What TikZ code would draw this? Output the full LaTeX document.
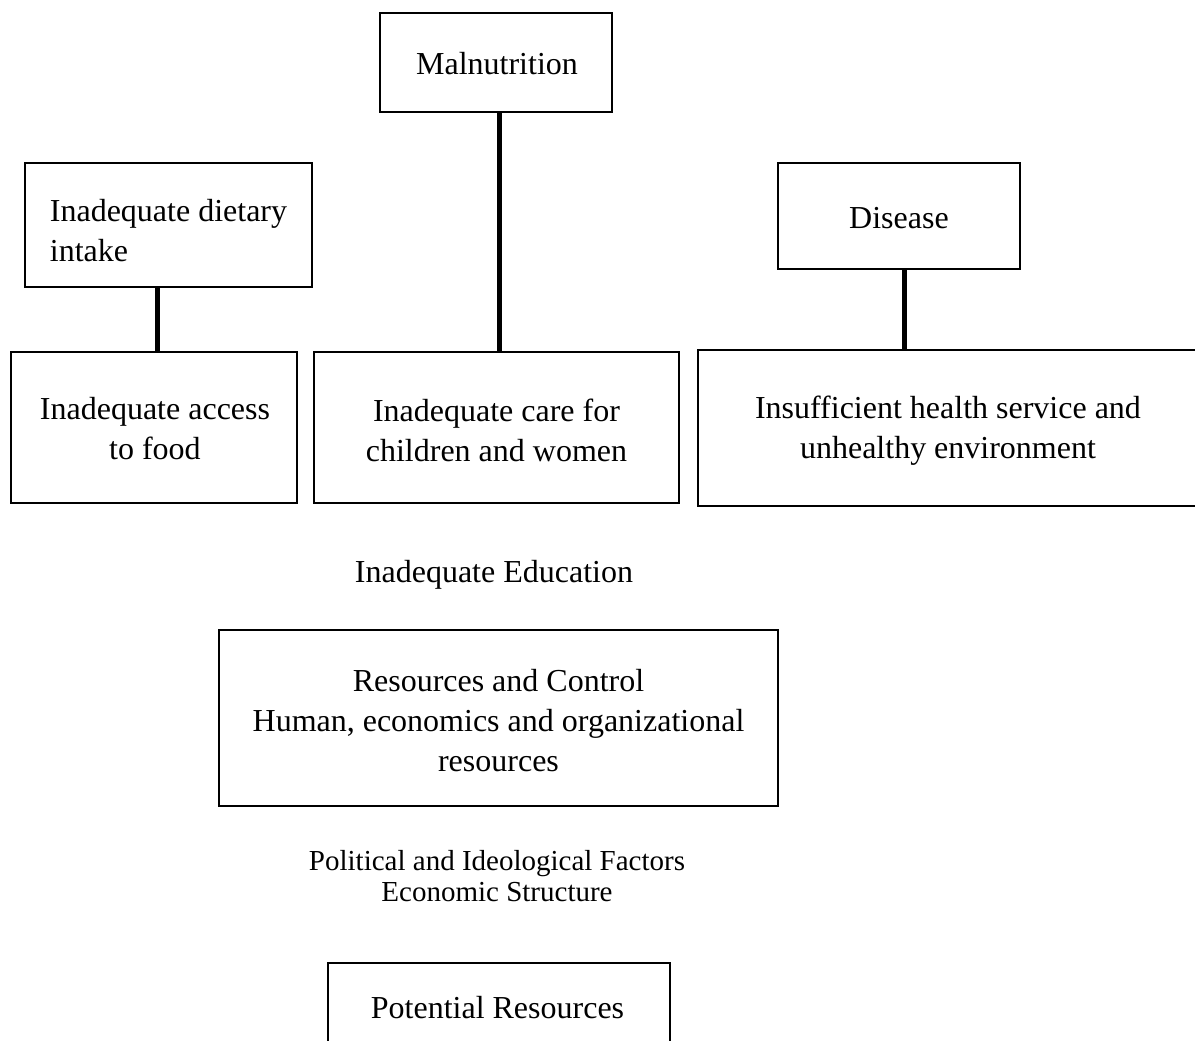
\documentclass[tikz,border=0pt]{standalone}
\usepackage{fontspec}
\setmainfont{Liberation Serif}
\begin{document}
\begin{tikzpicture}[x=1pt,y=-1pt,
  box/.style={draw, line width=2pt, rectangle, align=center, inner sep=0pt,
    font=\fontsize{32}{40}\selectfont},
  plain/.style={align=center, inner sep=0pt, font=\fontsize{32}{40}\selectfont},
  small/.style={align=center, inner sep=0pt, font=\fontsize{29}{31}\selectfont},
  link/.style={line width=5pt}]
\clip (0,0) rectangle (1195,1041);
\fill[white] (0,0) rectangle (1195,1041);
\node[box, minimum width=232pt, minimum height=99pt] (mal) at (496,62.5) {};
\node[plain] (malT) at (497,64) {Malnutrition};
\node[box, minimum width=287pt, minimum height=124pt] (diet) at (168.5,225) {};
\node[plain, align=left] (dietT) at (168.5,231) {Inadequate dietary\\intake};
\node[box, minimum width=286pt, minimum height=151pt] (access) at (154,427.5) {};
\node[plain] (accessT) at (155,428.5) {Inadequate access\\to food};
\node[box, minimum width=365pt, minimum height=151pt] (care) at (496.5,427.5) {};
\node[plain] (careT) at (496.5,430.5) {Inadequate care for\\children and women};
\node[box, minimum width=242pt, minimum height=106pt] (disease) at (899,216) {};
\node[plain] (diseaseT) at (899,218) {Disease};
\node[box, minimum width=506pt, minimum height=156pt, anchor=west] (health) at (697,427.5) {};
\node[plain] (healthT) at (948,431) {Insufficient health service and\\unhealthy environment};
\node[plain] (edu) at (494,575) {Inadequate Education};
\node[box, minimum width=559pt, minimum height=176pt] (res) at (498.5,718) {};
\node[plain] (resT) at (498.5,721) {Resources and Control\\Human, economics and organizational\\resources};
\node[small] (pol) at (497,876) {Political and Ideological Factors\\Economic Structure};
\node[box, minimum width=342pt, minimum height=160pt, anchor=north] (pot) at (499,962) {};
\node[plain] (potT) at (497.5,1008) {Potential Resources};
\draw[link] ([xshift=3pt]mal.south) -- ([xshift=3pt]mal.south |- care.north);
\draw[link] ([xshift=3pt]access.north) -- ([xshift=3pt]access.north |- diet.south);
\draw[link] ([xshift=5pt]disease.south) -- ([xshift=5pt]disease.south |- health.north);
\end{tikzpicture}
\end{document}
